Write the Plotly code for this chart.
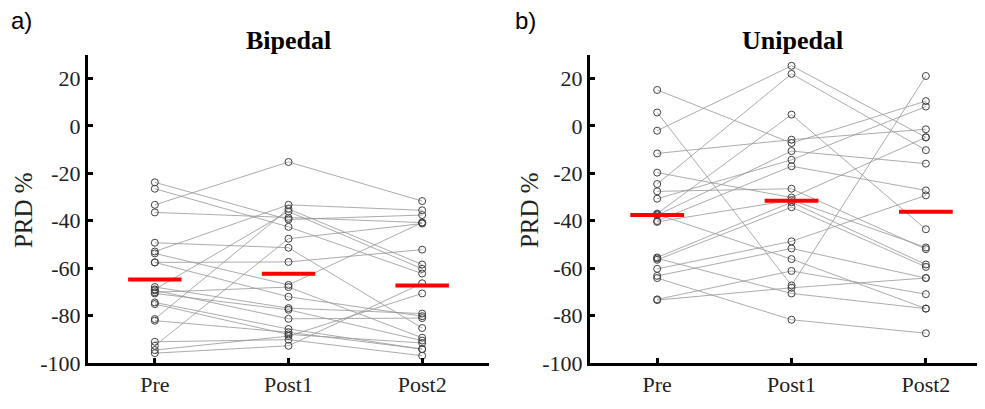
import plotly.graph_objects as go
import numpy as np

conditions = ["Pre", "Post1", "Post2"]

# Bipedal (panel a) - one value per subject per condition
bip_pre = [-23.8, -26.5, -33.3, -36.5, -49.3, -53.0, -53.8, -57.6, -57.6, -68.0, -69.0,
           -69.4, -70.2, -70.7, -74.5, -75.2, -81.5, -82.2, -91.1, -92.8, -94.6, -95.9]
bip_post1 = [-39.5, -42.6, -15.2, -38.8, -51.4, -33.3, -67.1, -72.1, -57.4, -76.9, -36.1,
             -81.4, -68.0, -77.6, -85.7, -88.0, -35.0, -87.1, -90.2, -47.6, -88.7, -92.8]
bip_post2 = [-37.6, -62.3, -31.7, -40.8, -85.3, -35.6, -40.8, -80.3, -52.2, -79.2, -60.3,
             -81.1, -89.4, -90.6, -94.2, -91.6, -58.5, -94.2, -97.0, -41.2, -70.7, -66.4]

# Unipedal (panel b)
uni_pre = [15.2, 5.7, -2.0, -11.6, -19.7, -24.5, -27.6, -30.7, -37.0, -37.7, -40.1,
           -40.5, -55.5, -56.5, -60.3, -63.3, -64.2, -73.2, -73.5, -37.3, -55.9]
uni_post1 = [-7.2, -67.3, 25.4, -5.8, -30.2, 22.0, -26.5, -14.3, 4.8, -10.6, -17.0,
             -31.3, -32.2, -34.3, -48.7, -51.7, -81.8, -61.2, -68.3, -56.2, -70.7]
uni_post2 = [10.5, 21.1, -4.8, -1.4, -4.8, -10.2, -52.0, 8.2, -43.6, -15.9, -27.2,
             -51.3, -58.5, -59.5, -29.3, -64.2, -87.5, -71.0, -64.2, -77.1, -77.1]

y_tick_values = [-100, -80, -60, -40, -20, 0, 20]
y_tick_labels = ["-100", "-80", "-60", "-40", "-20", "0", "20"]

# the page body has an 8px margin; size the figure so the whole page is 985x409
OFF = 8
W, H = 985 - OFF, 409 - 2 * OFF
SERIF = "Liberation Serif"
SANS = "Liberation Sans"


def fx(px):
    return (px - OFF) / W


def fy(py):
    return 1 - (py - OFF) / H


fig = go.Figure()


def add_panel(series, xa, ya):
    n = len(series[0])
    pos = list(range(1, len(conditions) + 1))
    xs, ys = [], []
    for k in range(n):
        for j, s in enumerate(series):
            xs.append(pos[j]); ys.append(s[k])
        xs.append(None); ys.append(None)
    fig.add_trace(go.Scatter(x=xs, y=ys, mode="lines",
                             line=dict(color="#959595", width=0.8),
                             xaxis=xa, yaxis=ya, hoverinfo="skip", showlegend=False))
    mx, my = [], []
    for j, s in enumerate(series):
        mx += [pos[j]] * len(s); my += list(s)
    fig.add_trace(go.Scatter(x=mx, y=my, mode="markers",
                             marker=dict(symbol="circle-open", size=7, color="#404040",
                                         line=dict(width=1, color="#404040")),
                             xaxis=xa, yaxis=ya, showlegend=False))
    for j, s in enumerate(series):
        m = float(np.mean(s))
        fig.add_trace(go.Scatter(x=[pos[j] - 0.2, pos[j] + 0.2], y=[m, m], mode="lines",
                                 line=dict(color="#ff0000", width=4),
                                 xaxis=xa, yaxis=ya, showlegend=False))


add_panel([bip_pre, bip_post1, bip_post2], "x", "y")
add_panel([uni_pre, uni_post1, uni_post2], "x2", "y2")

axis_common = dict(showline=True, linecolor="black", linewidth=3, ticks="inside",
                   ticklen=5, tickwidth=3, tickcolor="black", showgrid=False,
                   zeroline=False, tickfont=dict(family=SERIF, size=22, color="#222222"))

ydom = [fy(375), fy(56.5)]

fig.update_layout(
    width=W, height=H,
    margin=dict(l=0, r=0, t=0, b=0),
    paper_bgcolor="white", plot_bgcolor="white",
    xaxis=dict(domain=[fx(88), fx(489)], range=[0.5, 3.5], tickvals=[1, 2, 3],
               ticktext=conditions, anchor="y", **axis_common),
    yaxis=dict(domain=ydom, range=[-100, 30], tickvals=y_tick_values,
               ticktext=y_tick_labels, anchor="x", **axis_common),
    xaxis2=dict(domain=[fx(590), 1.0], range=[0.5, 3.44], tickvals=[1, 2, 3],
                ticktext=conditions, anchor="y2", **axis_common),
    yaxis2=dict(domain=ydom, range=[-100, 30], tickvals=y_tick_values,
                ticktext=y_tick_labels, anchor="x2", **axis_common),
)

annots = [
    dict(text="a)", x=fx(9), y=fy(21), xanchor="left", yanchor="middle",
         font=dict(family=SANS, size=24, color="black")),
    dict(text="b)", x=fx(513), y=fy(21), xanchor="left", yanchor="middle",
         font=dict(family=SANS, size=24, color="black")),
    dict(text="<b>Bipedal</b>", x=fx(288), y=fy(42), xanchor="center", yanchor="middle",
         font=dict(family=SERIF, size=26, color="black")),
    dict(text="<b>Unipedal</b>", x=fx(792), y=fy(42), xanchor="center", yanchor="middle",
         font=dict(family=SERIF, size=26, color="black")),
    dict(text="PRD %", x=fx(23), y=fy(217), xanchor="center", yanchor="middle",
         textangle=-90, font=dict(family=SERIF, size=25, color="#222222")),
    dict(text="PRD %", x=fx(529), y=fy(217), xanchor="center", yanchor="middle",
         textangle=-90, font=dict(family=SERIF, size=25, color="#222222")),
]
for a in annots:
    a.update(xref="paper", yref="paper", showarrow=False)
fig.update_layout(annotations=annots)

fig.write_html("out.html", config={"displayModeBar": False})
